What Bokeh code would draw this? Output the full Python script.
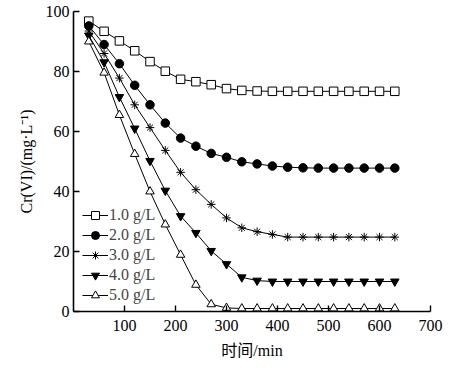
from bokeh.plotting import figure
from bokeh.models import Range1d, FixedTicker, Legend
from bokeh.embed import file_html
from bokeh.resources import INLINE

time_min = [30, 60, 90, 120, 150, 180, 210, 240, 270, 300, 330, 360, 390, 420, 450, 480, 510, 540, 570, 600, 630]

c_1_0 = [96.8, 93.4, 90.2, 86.9, 83.3, 80.1, 77.4, 76.6, 75.6, 74.3, 73.7, 73.5, 73.4, 73.4, 73.4, 73.4, 73.4, 73.4, 73.4, 73.4, 73.4]
c_2_0 = [95.2, 89.0, 82.6, 75.4, 68.9, 62.8, 57.8, 55.1, 52.7, 51.4, 49.9, 49.2, 48.5, 48.1, 47.9, 47.8, 47.8, 47.8, 47.8, 47.8, 47.8]
c_3_0 = [93.5, 86.0, 77.8, 68.9, 61.3, 53.7, 46.4, 40.6, 35.7, 31.2, 27.9, 26.6, 25.7, 24.8, 24.8, 24.8, 24.8, 24.8, 24.8, 24.8, 24.8]
c_4_0 = [92.0, 83.1, 71.5, 61.0, 50.2, 40.3, 31.8, 26.2, 20.2, 15.8, 11.4, 10.3, 10.0, 10.0, 10.0, 10.0, 10.0, 10.0, 10.0, 10.0, 10.0]
c_5_0 = [90.0, 79.6, 65.5, 52.5, 40.0, 29.0, 18.9, 8.9, 2.4, 1.2, 1.0, 1.0, 1.0, 1.0, 1.0, 1.0, 1.0, 1.0, 1.0, 1.0, 1.0]

labels = ["1.0 g/L", "2.0 g/L", "3.0 g/L", "4.0 g/L", "5.0 g/L"]
x_ticks = [100, 200, 300, 400, 500, 600, 700]
y_ticks = [0, 20, 40, 60, 80, 100]

FONT = "Liberation Serif, Noto Sans CJK SC, serif"

p = figure(width=460, height=363, output_backend="svg", toolbar_location=None,
           x_range=Range1d(0, 700), y_range=Range1d(0, 100),
           min_border_left=73, min_border_right=30, min_border_top=11, min_border_bottom=52)
p.outline_line_color = None
p.grid.visible = False
p.background_fill_color = "white"

series = [
    (c_1_0, "square", "white"),
    (c_2_0, "circle", "black"),
    (c_3_0, "asterisk", "black"),
    (c_4_0, "inverted_triangle", "black"),
    (c_5_0, "triangle", "white"),
]
items = []
for (vals, marker, fill), lab in zip(series, labels):
    l = p.line(time_min, vals, line_color="black", line_width=1)
    s = p.scatter(time_min, vals, marker=marker, size=8.5, line_color="black",
                  fill_color=fill, line_width=1)
    items.append((lab, [l, s]))

legend = Legend(items=items, location=(9, 6))
legend.border_line_color = None
legend.background_fill_alpha = 0
legend.padding = 0
legend.margin = 0
legend.spacing = 0
legend.label_height = 20
legend.glyph_height = 20
legend.glyph_width = 26
legend.label_standoff = 1
legend.label_text_font = FONT
legend.label_text_font_size = "16px"
legend.label_text_baseline = "middle"
p.add_layout(legend, "center")

xa = p.xaxis[0]
xa.ticker = FixedTicker(ticks=x_ticks)
ya = p.yaxis[0]
ya.ticker = FixedTicker(ticks=y_ticks)

for ax in (xa, ya):
    ax.axis_line_width = 1.6
    ax.axis_line_color = "black"
    ax.major_tick_line_color = "black"
    ax.major_tick_line_width = 1.4
    ax.major_tick_in = 6
    ax.major_tick_out = 0
    ax.minor_tick_line_color = None
    ax.major_label_text_font = FONT
    ax.major_label_text_font_size = "16px"
    ax.major_label_text_color = "black"
    ax.axis_label_text_font = FONT
    ax.axis_label_text_font_size = "16px"
    ax.axis_label_text_font_style = "normal"
    ax.axis_label_text_color = "black"

xa.axis_label = "时间/min"
xa.major_label_standoff = 8
xa.axis_label_standoff = 8
ya.axis_label = "Cr(VI)/(mg·L⁻¹)"
ya.major_label_standoff = 4
ya.axis_label_standoff = 8

open("out.html", "w").write(file_html(p, INLINE))
